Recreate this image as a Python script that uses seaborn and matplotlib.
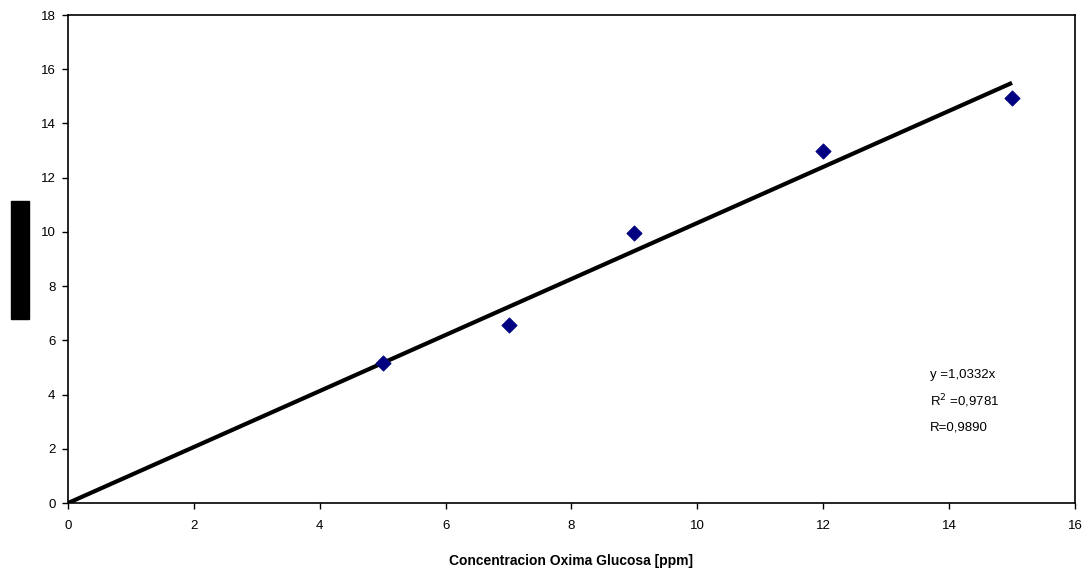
import numpy as np
import pandas as pd
import matplotlib
matplotlib.use('Agg')
import matplotlib.pyplot as plt
import seaborn as sns
from matplotlib.patches import Rectangle

# data
conc = [5, 7, 9, 12, 15]
signal = [5.17, 6.57, 9.96, 12.99, 14.94]
slope = 1.0332
fit_x = np.array([0, 15])
fit_y = slope * fit_x

sns.set_style('white')
plt.rcParams['font.family'] = ['Liberation Sans', 'DejaVu Sans']
plt.rcParams['text.color'] = 'black'
plt.rcParams['axes.labelcolor'] = 'black'

fig = plt.figure(figsize=(10.83, 5.71), dpi=100)
ax = fig.add_axes([0.0628, 0.119, 0.9298, 0.8547])

df = pd.DataFrame({'x': conc, 'y': signal})
ax.plot(fit_x, fit_y, color='black', linewidth=3, solid_capstyle='butt', zorder=2)
sns.scatterplot(data=df, x='x', y='y', ax=ax, marker='D', s=60,
                color='#000080', edgecolor='#000080', zorder=3)

ax.set_xlim(0, 16)
ax.set_ylim(0, 18)
ax.set_xticks(range(0, 17, 2))
ax.set_yticks(range(0, 19, 2))
ax.tick_params(axis='both', direction='out', length=4, width=1,
               labelsize=9.5, color='black', labelcolor='black',
               bottom=True, left=True)
ax.tick_params(axis='x', pad=8)
ax.tick_params(axis='y', pad=5)
for sp in ax.spines.values():
    sp.set_color('black')
    sp.set_linewidth(1.2)

ax.set_xlabel('Concentracion Oxima Glucosa [ppm]', fontsize=10,
              fontweight='bold', labelpad=16)
ax.set_ylabel('')

ax.text(13.7, 4.72, 'y =1,0332x', fontsize=9.5, va='center')
ax.text(13.7, 3.76, 'R$^2$ =0,9781', fontsize=9.5, va='center')
ax.text(13.7, 2.8, 'R=0,9890', fontsize=9.5, va='center')

# redacted y-axis label block
fig.patches.append(Rectangle((0.0102, 0.4413), 0.0166, 0.2067,
                             transform=fig.transFigure, color='black'))

fig.savefig('out.png', dpi=100)
